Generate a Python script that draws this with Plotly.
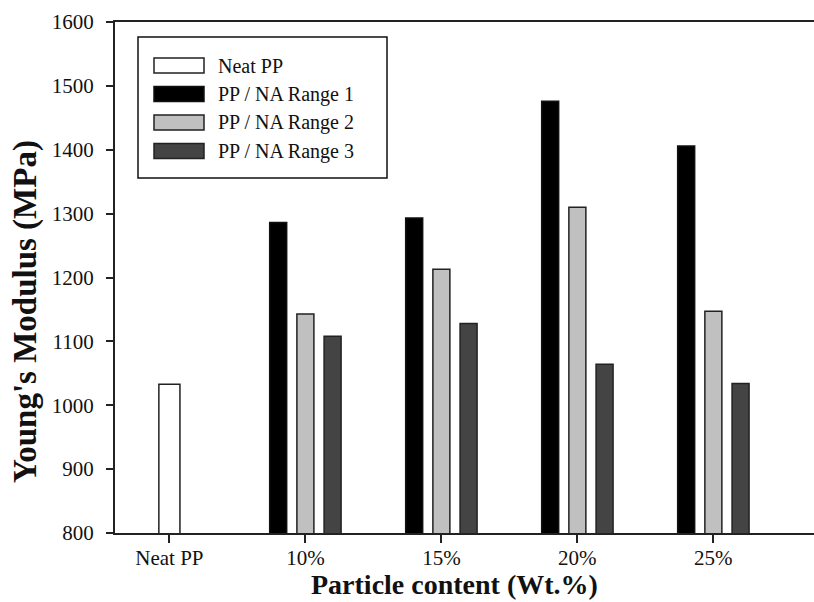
import plotly.graph_objects as go

# ---------------- data ----------------
categories = ["Neat PP", "10%", "15%", "20%", "25%"]
series_names = ["Neat PP", "PP / NA Range 1", "PP / NA Range 2", "PP / NA Range 3"]
neat_pp = [1033]
range1 = [1286, 1293, 1476, 1406]
range2 = [1143, 1213, 1310, 1147]
range3 = [1108, 1128, 1064, 1034]
y_tick_values = [800, 900, 1000, 1100, 1200, 1300, 1400, 1500, 1600]

# ---------------- layout constants ----------------
W, H = 814, 602
L, R, T, B = 115, 0, 22, 69
PW, PH = W - L - R, H - T - B
SERIF = "Liberation Serif, Times New Roman, serif"

fills = ["#ffffff", "#000000", "#c0c0c0", "#444444"]
edges = ["#222222", "#111111", "#222222", "#222222"]


def px(x):
    return (x - L) / PW


def py(y):
    return (H - B - y) / PH


fig = go.Figure()
fig.add_trace(go.Bar(x=categories[:1], y=neat_pp, name=series_names[0],
                     width=0.155, offset=-0.0775,
                     marker=dict(color=fills[0], line=dict(color=edges[0], width=1.5))))
for vals, name, fc, ec, off in zip([range1, range2, range3], series_names[1:],
                                   fills[1:], edges[1:], [-0.2625, -0.0625, 0.1375]):
    fig.add_trace(go.Bar(x=categories[1:], y=vals, name=name,
                         width=0.125, offset=off,
                         marker=dict(color=fc, line=dict(color=ec, width=1.5))))

# manual legend (box + swatches + text)
shapes = [dict(type="rect", xref="paper", yref="paper",
               x0=px(138), x1=px(387), y0=py(178), y1=py(37),
               line=dict(color="#111111", width=1.5), fillcolor="white", layer="above")]
annotations = []
row_centers = [65.5, 94, 122.5, 151]
for i, (name, fc, ec) in enumerate(zip(series_names, fills, edges)):
    yc = row_centers[i]
    shapes.append(dict(type="rect", xref="paper", yref="paper",
                       x0=px(154), x1=px(204), y0=py(yc + 7.5), y1=py(yc - 7.5),
                       line=dict(color=ec, width=1.5), fillcolor=fc, layer="above"))
    annotations.append(dict(text=name, xref="paper", yref="paper",
                            x=px(216), y=py(yc), xanchor="left", yanchor="middle",
                            showarrow=False, font=dict(family=SERIF, size=20, color="#111111")))

# axis titles
annotations.append(dict(text="<b>Young's Modulus (MPa)</b>", xref="paper", yref="paper",
                        x=px(25), y=py(312), xanchor="center", yanchor="middle",
                        textangle=-90, showarrow=False,
                        font=dict(family=SERIF, size=33, color="#111111")))
annotations.append(dict(text="<b>Particle content (Wt.%)</b>", xref="paper", yref="paper",
                        x=px(454), y=py(602), xanchor="center", yanchor="bottom",
                        showarrow=False,
                        font=dict(family=SERIF, size=28, color="#111111")))

fig.update_layout(
    width=W, height=H,
    margin=dict(l=L, r=R, t=T, b=B, pad=0),
    paper_bgcolor="white", plot_bgcolor="white",
    barmode="overlay", showlegend=False,
    shapes=shapes, annotations=annotations,
    font=dict(family=SERIF, color="#111111"),
)
fig.update_xaxes(
    type="category", categoryorder="array", categoryarray=categories,
    range=[-0.4, 4.74],
    showline=True, linecolor="#222222", linewidth=2, mirror=True,
    ticks="outside", ticklen=8, tickwidth=1.5, tickcolor="#222222",
    ticklabelstandoff=-3,
    tickfont=dict(family=SERIF, size=21, color="#111111"),
    showgrid=False, zeroline=False,
)
fig.update_yaxes(
    range=[800, 1600], tickvals=y_tick_values,
    showline=True, linecolor="#222222", linewidth=2,
    ticks="outside", ticklen=7, tickwidth=1.5, tickcolor="#222222",
    ticklabelstandoff=8,
    tickfont=dict(family=SERIF, size=21, color="#111111"),
    showgrid=False, zeroline=False,
)

fig.write_html(
    "out.html",
    config={"displayModeBar": False},
    post_script="document.body.style.margin='0';document.body.style.overflow='hidden';",
)
